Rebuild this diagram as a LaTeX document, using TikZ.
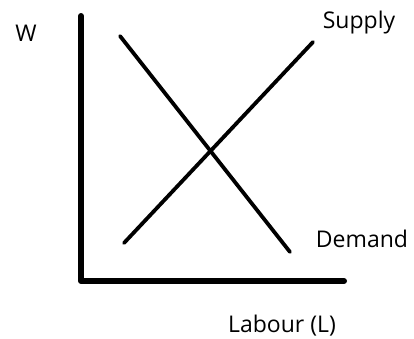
\documentclass[tikz,border=0pt]{standalone}
\usepackage{fontspec}
\setmainfont{Open Sans}
\usetikzlibrary{positioning}
\tikzset{
  axisline/.style={line width=6pt,line cap=round,line join=round},
  curveline/.style={line width=3.8pt,line cap=round},
  lbl/.style={font=\fontsize{23}{26}\selectfont,inner sep=0pt}
}
\begin{document}
\begin{tikzpicture}[x=1pt,y=-1pt]
\useasboundingbox (0,0) rectangle (414,338);
% axes
\coordinate (top) at (81,16);
\coordinate (origin) at (81,281);
\coordinate (right) at (344,281);
\draw[axisline] (top) -- (origin) -- (right);
% curves
\coordinate (s0) at (124,243);
\coordinate (s1) at (313,42);
\coordinate (d0) at (120,36);
\coordinate (d1) at (290,252);
\draw[curveline] (s0) -- (s1);
\draw[curveline] (d0) -- (d1);
% labels
\node[lbl] (w) at (26,33) {W};
\node[lbl] (supply) at (359,23) {Supply};
\node[lbl] (demand) at (362,239) {Demand};
\node[lbl] (labour) at (282,326) {Labour (L)};
\end{tikzpicture}
\end{document}
